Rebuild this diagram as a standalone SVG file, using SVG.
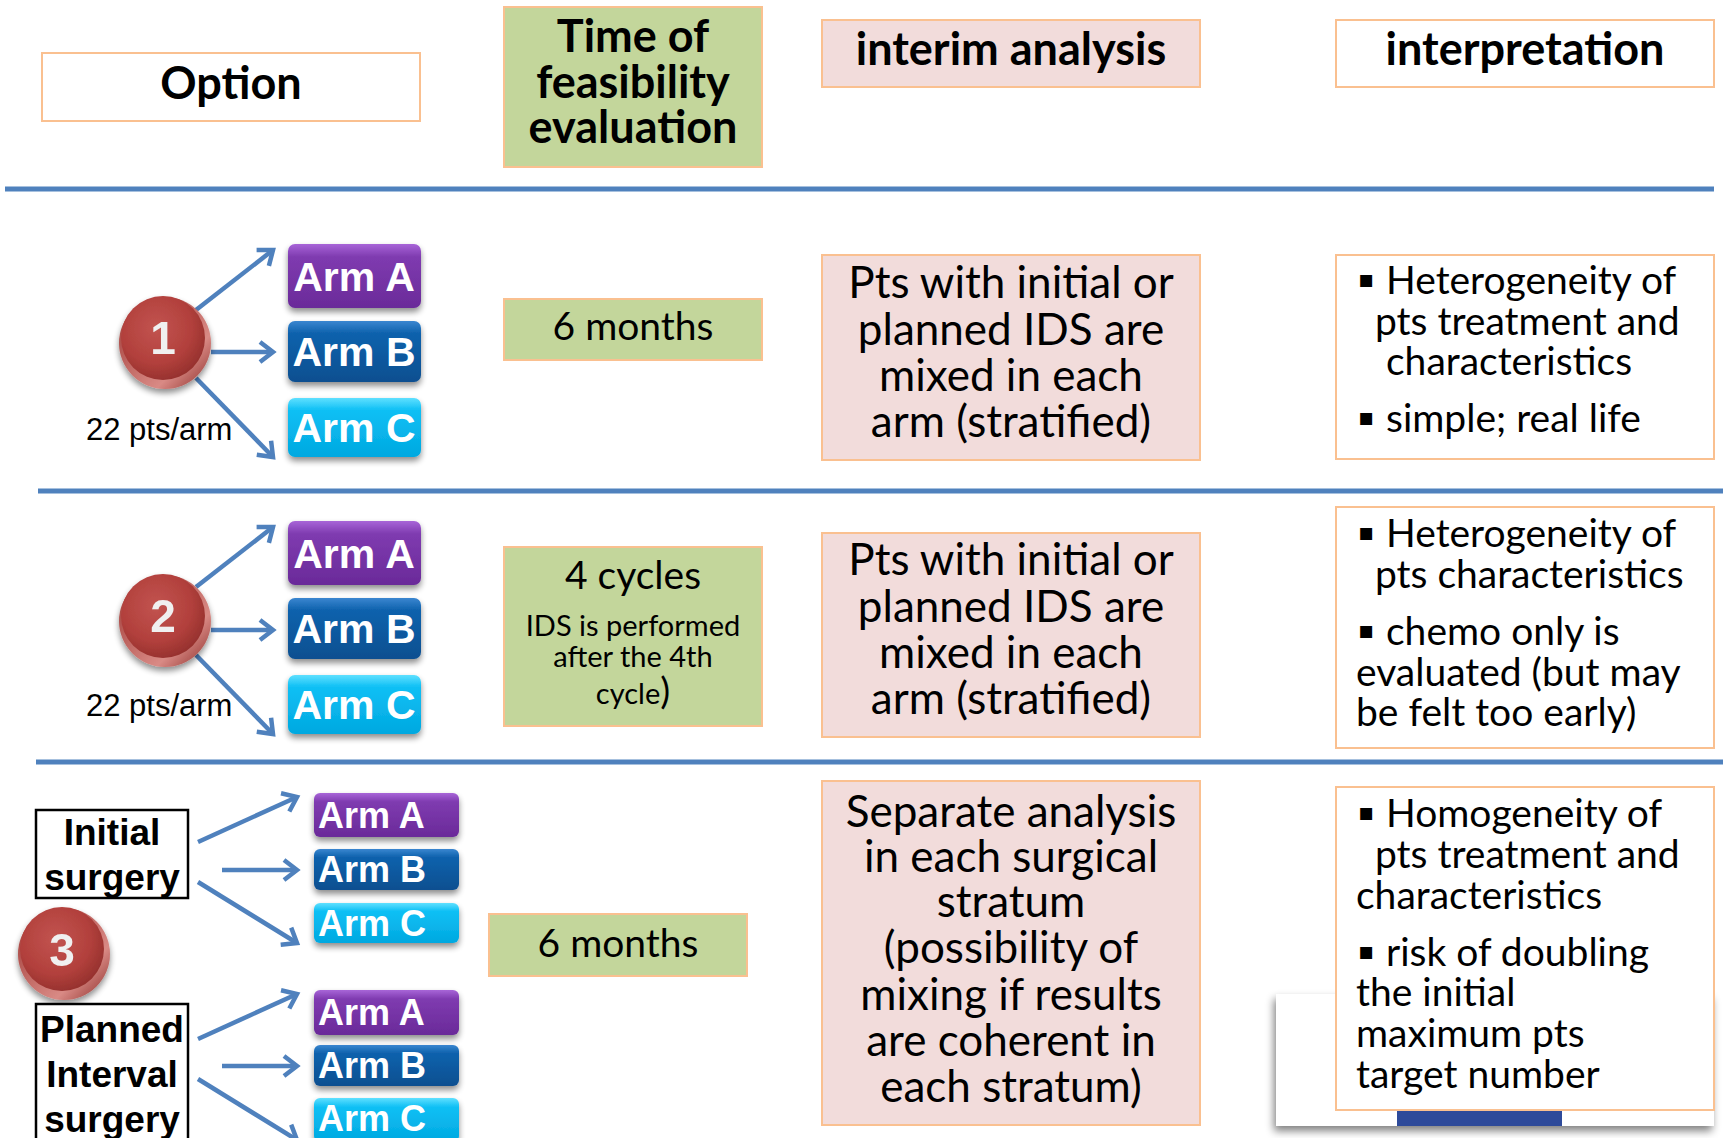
<svg xmlns="http://www.w3.org/2000/svg" width="1723" height="1138" viewBox="0 0 1723 1138">
<defs>
<style>
.hdr{font-family:Lato,"Open Sans",sans-serif;font-weight:bold;font-size:45px;fill:#000;text-anchor:middle}
.box{stroke:#FAC090;stroke-width:2}
.green{fill:#C3D69B}
.pink{fill:#F2DCDB}
.white{fill:#fff}
.ia{font-family:Lato,"Open Sans",sans-serif;font-size:44px;fill:#000;text-anchor:middle}
.mid{font-family:Lato,"Open Sans",sans-serif;font-size:39px;fill:#000;text-anchor:middle}
.sm{font-family:Lato,"Open Sans",sans-serif;font-size:29px;fill:#000;text-anchor:middle}
.ip{font-family:Lato,"Open Sans",sans-serif;font-size:39px;fill:#000}
.b{font-family:"DejaVu Sans",sans-serif;font-size:24px}
.arm{font-family:"Liberation Sans",Arial,sans-serif;font-weight:bold;font-size:41px;fill:#fff;text-anchor:middle}
.arm3{font-family:"Liberation Sans",Arial,sans-serif;font-weight:bold;font-size:36px;fill:#fff}
.pts{font-family:"Liberation Sans",Arial,sans-serif;font-size:31px;fill:#000}
.surg{font-family:"Liberation Sans",Arial,sans-serif;font-weight:bold;font-size:37px;fill:#000;text-anchor:middle}
.num{font-family:"Liberation Sans",Arial,sans-serif;font-weight:bold;font-size:46px;fill:#F0F0F0;text-anchor:middle}
.conn{stroke:#4F81BD;stroke-width:4.5;fill:none;marker-end:url(#ah)}
.sep{stroke:#4F81BD;stroke-width:5}
.sepsh{stroke:#999;stroke-width:5;filter:url(#blur)}
</style>
<linearGradient id="gA" x1="0" y1="0" x2="0" y2="1"><stop offset="0" stop-color="#A865D8"/><stop offset="0.2" stop-color="#7F3BB0"/><stop offset="1" stop-color="#6A2A99"/></linearGradient>
<linearGradient id="gB" x1="0" y1="0" x2="0" y2="1"><stop offset="0" stop-color="#3A86D0"/><stop offset="0.2" stop-color="#0F62AD"/><stop offset="1" stop-color="#0A4F90"/></linearGradient>
<linearGradient id="gC" x1="0" y1="0" x2="0" y2="1"><stop offset="0" stop-color="#5FE0FF"/><stop offset="0.2" stop-color="#10C0F5"/><stop offset="1" stop-color="#00A8E0"/></linearGradient>
<radialGradient id="btn" cx="0.42" cy="0.38" r="0.7"><stop offset="0" stop-color="#C25450"/><stop offset="0.6" stop-color="#B2403C"/><stop offset="1" stop-color="#8E2D2A"/></radialGradient>
<linearGradient id="rim" x1="0" y1="0" x2="1" y2="1"><stop offset="0" stop-color="#9B3430"/><stop offset="0.7" stop-color="#D98A85"/><stop offset="1" stop-color="#8A2A27"/></linearGradient>
<filter id="blur" x="-5%" y="-200%" width="110%" height="500%"><feGaussianBlur stdDeviation="2"/></filter>
<filter id="sh" x="-20%" y="-20%" width="140%" height="150%"><feGaussianBlur in="SourceAlpha" stdDeviation="3"/><feOffset dx="0" dy="4"/><feComponentTransfer><feFuncA type="linear" slope="0.45"/></feComponentTransfer><feMerge><feMergeNode/><feMergeNode in="SourceGraphic"/></feMerge></filter>
<filter id="sh2" x="-10%" y="-10%" width="120%" height="130%"><feGaussianBlur in="SourceAlpha" stdDeviation="4"/><feOffset dx="-2" dy="5"/><feComponentTransfer><feFuncA type="linear" slope="0.5"/></feComponentTransfer><feMerge><feMergeNode/><feMergeNode in="SourceGraphic"/></feMerge></filter>
<marker id="ah" markerUnits="userSpaceOnUse" viewBox="-16 -13 20 26" refX="0" refY="0" markerWidth="20" markerHeight="26" orient="auto">
<path d="M-13,-10 L0,0 L-13,10" fill="none" stroke="#4F81BD" stroke-width="4.5" stroke-linejoin="miter"/>
</marker>
<g id="button">
<circle cx="0" cy="4" r="46" fill="url(#rim)"/>
<circle cx="-2" cy="-1" r="42" fill="url(#btn)"/>
</g>
</defs>
<rect width="1723" height="1138" fill="#fff"/>

<!-- separators -->
<g id="separators">
<line class="sepsh" x1="7" y1="192" x2="1714" y2="192"/>
<line class="sep" x1="5" y1="189" x2="1714" y2="189"/>
<line class="sepsh" x1="40" y1="494" x2="1723" y2="494"/>
<line class="sep" x1="38" y1="491" x2="1723" y2="491"/>
<line class="sepsh" x1="38" y1="765" x2="1723" y2="765"/>
<line class="sep" x1="36" y1="762" x2="1723" y2="762"/>
</g>

<!-- header -->
<g id="h-option"><rect class="box white" x="42" y="53" width="378" height="68"/><text class="hdr" x="231" y="99">Option</text></g>
<g id="h-time"><rect class="box green" x="504" y="7" width="258" height="160"/><text class="hdr" x="633" y="52">Time of</text><text class="hdr" x="633" y="98">feasibility</text><text class="hdr" x="633" y="143">evaluation</text></g>
<g id="h-interim"><rect class="box pink" x="822" y="20" width="378" height="67"/><text class="hdr" x="1011" y="65">interim analysis</text></g>
<g id="h-interp"><rect class="box white" x="1336" y="20" width="378" height="67"/><text class="hdr" x="1525" y="65">interpretation</text></g>

<!-- connectors -->
<g id="connectors">
<line class="conn" x1="196" y1="310" x2="273" y2="250"/>
<line class="conn" x1="211" y1="352" x2="273" y2="352"/>
<line class="conn" x1="196" y1="378" x2="273" y2="457"/>
<line class="conn" x1="196" y1="587" x2="273" y2="527"/>
<line class="conn" x1="211" y1="630" x2="273" y2="630"/>
<line class="conn" x1="196" y1="655" x2="273" y2="734"/>
<line class="conn" x1="198" y1="842" x2="297" y2="797"/>
<line class="conn" x1="222" y1="870" x2="297" y2="870"/>
<line class="conn" x1="198" y1="882" x2="297" y2="943"/>
<line class="conn" x1="198" y1="1039" x2="297" y2="994"/>
<line class="conn" x1="222" y1="1066" x2="297" y2="1066"/>
<line class="conn" x1="198" y1="1079" x2="297" y2="1140"/>
</g>

<!-- row 1 -->
<g id="opt1" filter="url(#sh)"><use href="#button" x="165" y="339"/><text class="num" x="163" y="354">1</text></g>
<g id="r1-armA"><rect x="288" y="244" width="133" height="64" rx="7" fill="url(#gA)" filter="url(#sh)"/><text class="arm" x="354" y="291">Arm A</text></g>
<g id="r1-armB"><rect x="288" y="321" width="133" height="61" rx="7" fill="url(#gB)" filter="url(#sh)"/><text class="arm" x="354" y="366">Arm B</text></g>
<g id="r1-armC"><rect x="288" y="398" width="133" height="59" rx="7" fill="url(#gC)" filter="url(#sh)"/><text class="arm" x="354" y="442">Arm C</text></g>
<g id="r1-pts"><text class="pts" x="86" y="440">22 pts/arm</text></g>
<g id="r1-time"><rect class="box green" x="504" y="299" width="258" height="61"/><text class="mid" x="633" y="340">6 months</text></g>
<g id="r1-interim"><rect class="box pink" x="822" y="255" width="378" height="205"/>
<text class="ia" x="1011" y="298">Pts with initial or</text><text class="ia" x="1011" y="345">planned IDS are</text><text class="ia" x="1011" y="391">mixed in each</text><text class="ia" x="1011" y="437">arm (stratified)</text></g>
<g id="r1-interp"><rect class="box white" x="1336" y="255" width="378" height="204"/>
<text class="ip" x="1358" y="294"><tspan class="b" dy="-7">▪</tspan><tspan x="1386" dy="7">Heterogeneity of</tspan></text>
<text class="ip" x="1375" y="335">pts treatment and</text>
<text class="ip" x="1386" y="375">characteristics</text>
<text class="ip" x="1358" y="432"><tspan class="b" dy="-7">▪</tspan><tspan x="1386" dy="7">simple; real life</tspan></text></g>

<!-- row 2 -->
<g id="opt2" filter="url(#sh)"><use href="#button" x="165" y="617"/><text class="num" x="163" y="632">2</text></g>
<g id="r2-armA"><rect x="288" y="521" width="133" height="64" rx="7" fill="url(#gA)" filter="url(#sh)"/><text class="arm" x="354" y="568">Arm A</text></g>
<g id="r2-armB"><rect x="288" y="598" width="133" height="61" rx="7" fill="url(#gB)" filter="url(#sh)"/><text class="arm" x="354" y="643">Arm B</text></g>
<g id="r2-armC"><rect x="288" y="675" width="133" height="59" rx="7" fill="url(#gC)" filter="url(#sh)"/><text class="arm" x="354" y="719">Arm C</text></g>
<g id="r2-pts"><text class="pts" x="86" y="716">22 pts/arm</text></g>
<g id="r2-time"><rect class="box green" x="504" y="547" width="258" height="179"/>
<text class="mid" x="633" y="589">4 cycles</text><text class="sm" x="633" y="636">IDS is performed</text><text class="sm" x="633" y="667">after the 4th</text><text class="sm" x="633" y="704">cycle<tspan font-size="37">)</tspan></text></g>
<g id="r2-interim"><rect class="box pink" x="822" y="533" width="378" height="204"/>
<text class="ia" x="1011" y="575">Pts with initial or</text><text class="ia" x="1011" y="622">planned IDS are</text><text class="ia" x="1011" y="668">mixed in each</text><text class="ia" x="1011" y="714">arm (stratified)</text></g>
<g id="r2-interp"><rect class="box white" x="1336" y="507" width="378" height="241"/>
<text class="ip" x="1358" y="547"><tspan class="b" dy="-7">▪</tspan><tspan x="1386" dy="7">Heterogeneity of</tspan></text>
<text class="ip" x="1375" y="588">pts characteristics</text>
<text class="ip" x="1358" y="645"><tspan class="b" dy="-7">▪</tspan><tspan x="1386" dy="7">chemo only is</tspan></text>
<text class="ip" x="1356" y="686">evaluated (but may</text>
<text class="ip" x="1356" y="726">be felt too early)</text></g>

<!-- row 3 -->
<g id="thumb"><rect x="1276" y="994" width="438" height="132" fill="#fff" filter="url(#sh2)"/><rect x="1397" y="1108" width="165" height="18" fill="#2E4A9A"/></g>
<g id="opt3" filter="url(#sh)"><use href="#button" x="64" y="950"/><text class="num" x="62" y="966">3</text></g>
<g id="r3-initial"><rect x="36" y="810" width="152" height="88" fill="#fff" stroke="#000" stroke-width="2.5"/><text class="surg" x="112" y="845">Initial</text><text class="surg" x="112" y="890">surgery</text></g>
<g id="r3-planned"><rect x="36" y="1004" width="152" height="140" fill="#fff" stroke="#000" stroke-width="2.5"/><text class="surg" x="112" y="1042">Planned</text><text class="surg" x="112" y="1087">Interval</text><text class="surg" x="112" y="1132">surgery</text></g>
<g id="r3-armA1"><rect x="314" y="793" width="145" height="44" rx="6" fill="url(#gA)" filter="url(#sh)"/><text class="arm3" x="318" y="828">Arm A</text></g>
<g id="r3-armB1"><rect x="314" y="849" width="145" height="41" rx="6" fill="url(#gB)" filter="url(#sh)"/><text class="arm3" x="318" y="882">Arm B</text></g>
<g id="r3-armC1"><rect x="314" y="903" width="145" height="40" rx="6" fill="url(#gC)" filter="url(#sh)"/><text class="arm3" x="318" y="936">Arm C</text></g>
<g id="r3-armA2"><rect x="314" y="990" width="145" height="45" rx="6" fill="url(#gA)" filter="url(#sh)"/><text class="arm3" x="318" y="1025">Arm A</text></g>
<g id="r3-armB2"><rect x="314" y="1045" width="145" height="41" rx="6" fill="url(#gB)" filter="url(#sh)"/><text class="arm3" x="318" y="1078">Arm B</text></g>
<g id="r3-armC2"><rect x="314" y="1098" width="145" height="44" rx="6" fill="url(#gC)" filter="url(#sh)"/><text class="arm3" x="318" y="1131">Arm C</text></g>
<g id="r3-time"><rect class="box green" x="489" y="914" width="258" height="62"/><text class="mid" x="618" y="957">6 months</text></g>
<g id="r3-interim"><rect class="box pink" x="822" y="781" width="378" height="344"/>
<text class="ia" x="1011" y="827">Separate analysis</text><text class="ia" x="1011" y="872">in each surgical</text><text class="ia" x="1011" y="917">stratum</text><text class="ia" x="1011" y="963">(possibility of</text><text class="ia" x="1011" y="1010">mixing if results</text><text class="ia" x="1011" y="1056">are coherent in</text><text class="ia" x="1011" y="1102">each stratum)</text></g>
<g id="r3-interp"><rect class="box white" x="1336" y="787" width="378" height="323"/>
<text class="ip" x="1358" y="827"><tspan class="b" dy="-7">▪</tspan><tspan x="1386" dy="7">Homogeneity of</tspan></text>
<text class="ip" x="1375" y="868">pts treatment and</text>
<text class="ip" x="1356" y="909">characteristics</text>
<text class="ip" x="1358" y="966"><tspan class="b" dy="-7">▪</tspan><tspan x="1386" dy="7">risk of doubling</tspan></text>
<text class="ip" x="1356" y="1006">the initial</text>
<text class="ip" x="1356" y="1047">maximum pts</text>
<text class="ip" x="1356" y="1088">target number</text></g>
</svg>
